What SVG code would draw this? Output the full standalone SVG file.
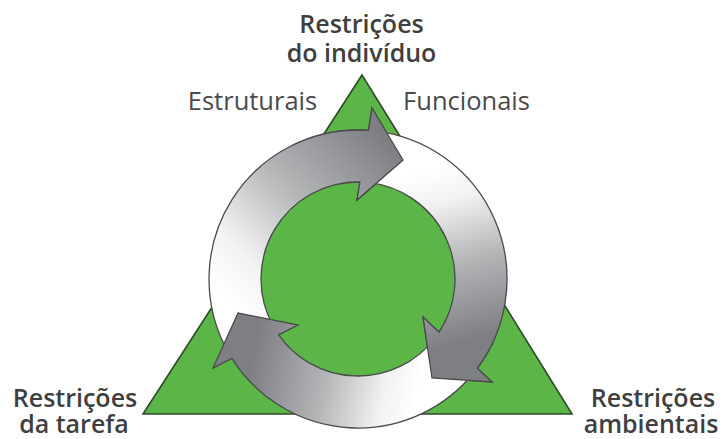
<svg xmlns="http://www.w3.org/2000/svg" xmlns:xlink="http://www.w3.org/1999/xlink" width="722" height="439" viewBox="0 0 722 439">
  <style>
    .title { font-family: "Open Sans", "Liberation Sans", sans-serif; font-weight: 600; font-size: 25px; fill: #3f3f40; text-anchor: middle; }
    .sub { font-family: "Open Sans", "Liberation Sans", sans-serif; font-weight: 400; font-size: 25.5px; fill: #4a4a4b; text-anchor: middle; }
    .arrow { stroke: #4a4a4c; stroke-width: 1.3; stroke-linejoin: miter; }
    .green { fill: #5cb547; }
  </style>
  <defs>
    <linearGradient id="gA" gradientUnits="userSpaceOnUse" x1="228" y1="300" x2="385" y2="140">
      <stop offset="0" stop-color="#ffffff"/>
      <stop offset="0.2" stop-color="#f2f2f2"/>
      <stop offset="0.55" stop-color="#b5b6b8"/>
      <stop offset="1" stop-color="#7e7f83"/>
    </linearGradient>
    <linearGradient id="gB" gradientUnits="userSpaceOnUse" x1="425" y1="170" x2="470" y2="340">
      <stop offset="0" stop-color="#ffffff"/>
      <stop offset="0.2" stop-color="#f2f2f2"/>
      <stop offset="0.55" stop-color="#b5b6b8"/>
      <stop offset="1" stop-color="#7e7f83"/>
    </linearGradient>
    <linearGradient id="gC" gradientUnits="userSpaceOnUse" x1="420" y1="385" x2="255" y2="350">
      <stop offset="0" stop-color="#ffffff"/>
      <stop offset="0.2" stop-color="#f2f2f2"/>
      <stop offset="0.55" stop-color="#b5b6b8"/>
      <stop offset="1" stop-color="#7e7f83"/>
    </linearGradient>
    <clipPath id="clipA">
      <polygon points="358,279 327.4,61.1 414.9,66.5 484.2,98.8"/>
    </clipPath>
    <clipPath id="clipB">
      <polygon points="358,279 557.4,372 513.6,434.6 451,478.4"/>
    </clipPath>
    <path id="arrowA" class="arrow" fill="url(#gA)" d="M228.96,353.5 A149,149 0 0 1 368.4,130.4 L372,108 L403,160 L357,200 L359.9,182 A97,97 0 0 0 274,327.5 Z"/>
    <path id="arrowB" class="arrow" fill="url(#gB)" d="M376.16,131.11 A149,149 0 0 1 477.35,368.2 L492,382 L432,378 L423,317 L439.1,332.2 A97,97 0 0 0 369.82,182.72 Z"/>
    <path id="arrowC" class="arrow" fill="url(#gC)" d="M473.8,372.77 A149,149 0 0 1 231.9,358.4 L213,368 L238,313 L298,325 L278.65,334.8 A97,97 0 0 0 433.38,340.04 Z"/>
  </defs>

  <g id="triangle">
    <polygon class="green" points="362,75 143,414 572,414" stroke="#2f4a2b" stroke-width="1.6" stroke-linejoin="miter"/>
    <circle class="green" cx="358" cy="279" r="97"/>
  </g>

  <g id="connectors">
    <use xlink:href="#arrowA" href="#arrowA"/>
    <use xlink:href="#arrowB" href="#arrowB"/>
    <use xlink:href="#arrowC" href="#arrowC"/>
    <use xlink:href="#arrowA" href="#arrowA" clip-path="url(#clipA)"/>
    <use xlink:href="#arrowB" href="#arrowB" clip-path="url(#clipB)"/>
  </g>

  <g id="node-individuo">
    <text class="title" x="361.5" y="33">Restrições</text>
    <text class="title" x="361.5" y="62">do indivíduo</text>
  </g>
  <g id="node-estruturais">
    <text class="sub" x="252.5" y="110">Estruturais</text>
  </g>
  <g id="node-funcionais">
    <text class="sub" x="466.5" y="110">Funcionais</text>
  </g>
  <g id="node-tarefa">
    <text class="title" x="75" y="407">Restrições</text>
    <text class="title" x="74" y="433">da tarefa</text>
  </g>
  <g id="node-ambientais">
    <text class="title" x="653" y="407">Restrições</text>
    <text class="title" x="651" y="433">ambientais</text>
  </g>
</svg>
